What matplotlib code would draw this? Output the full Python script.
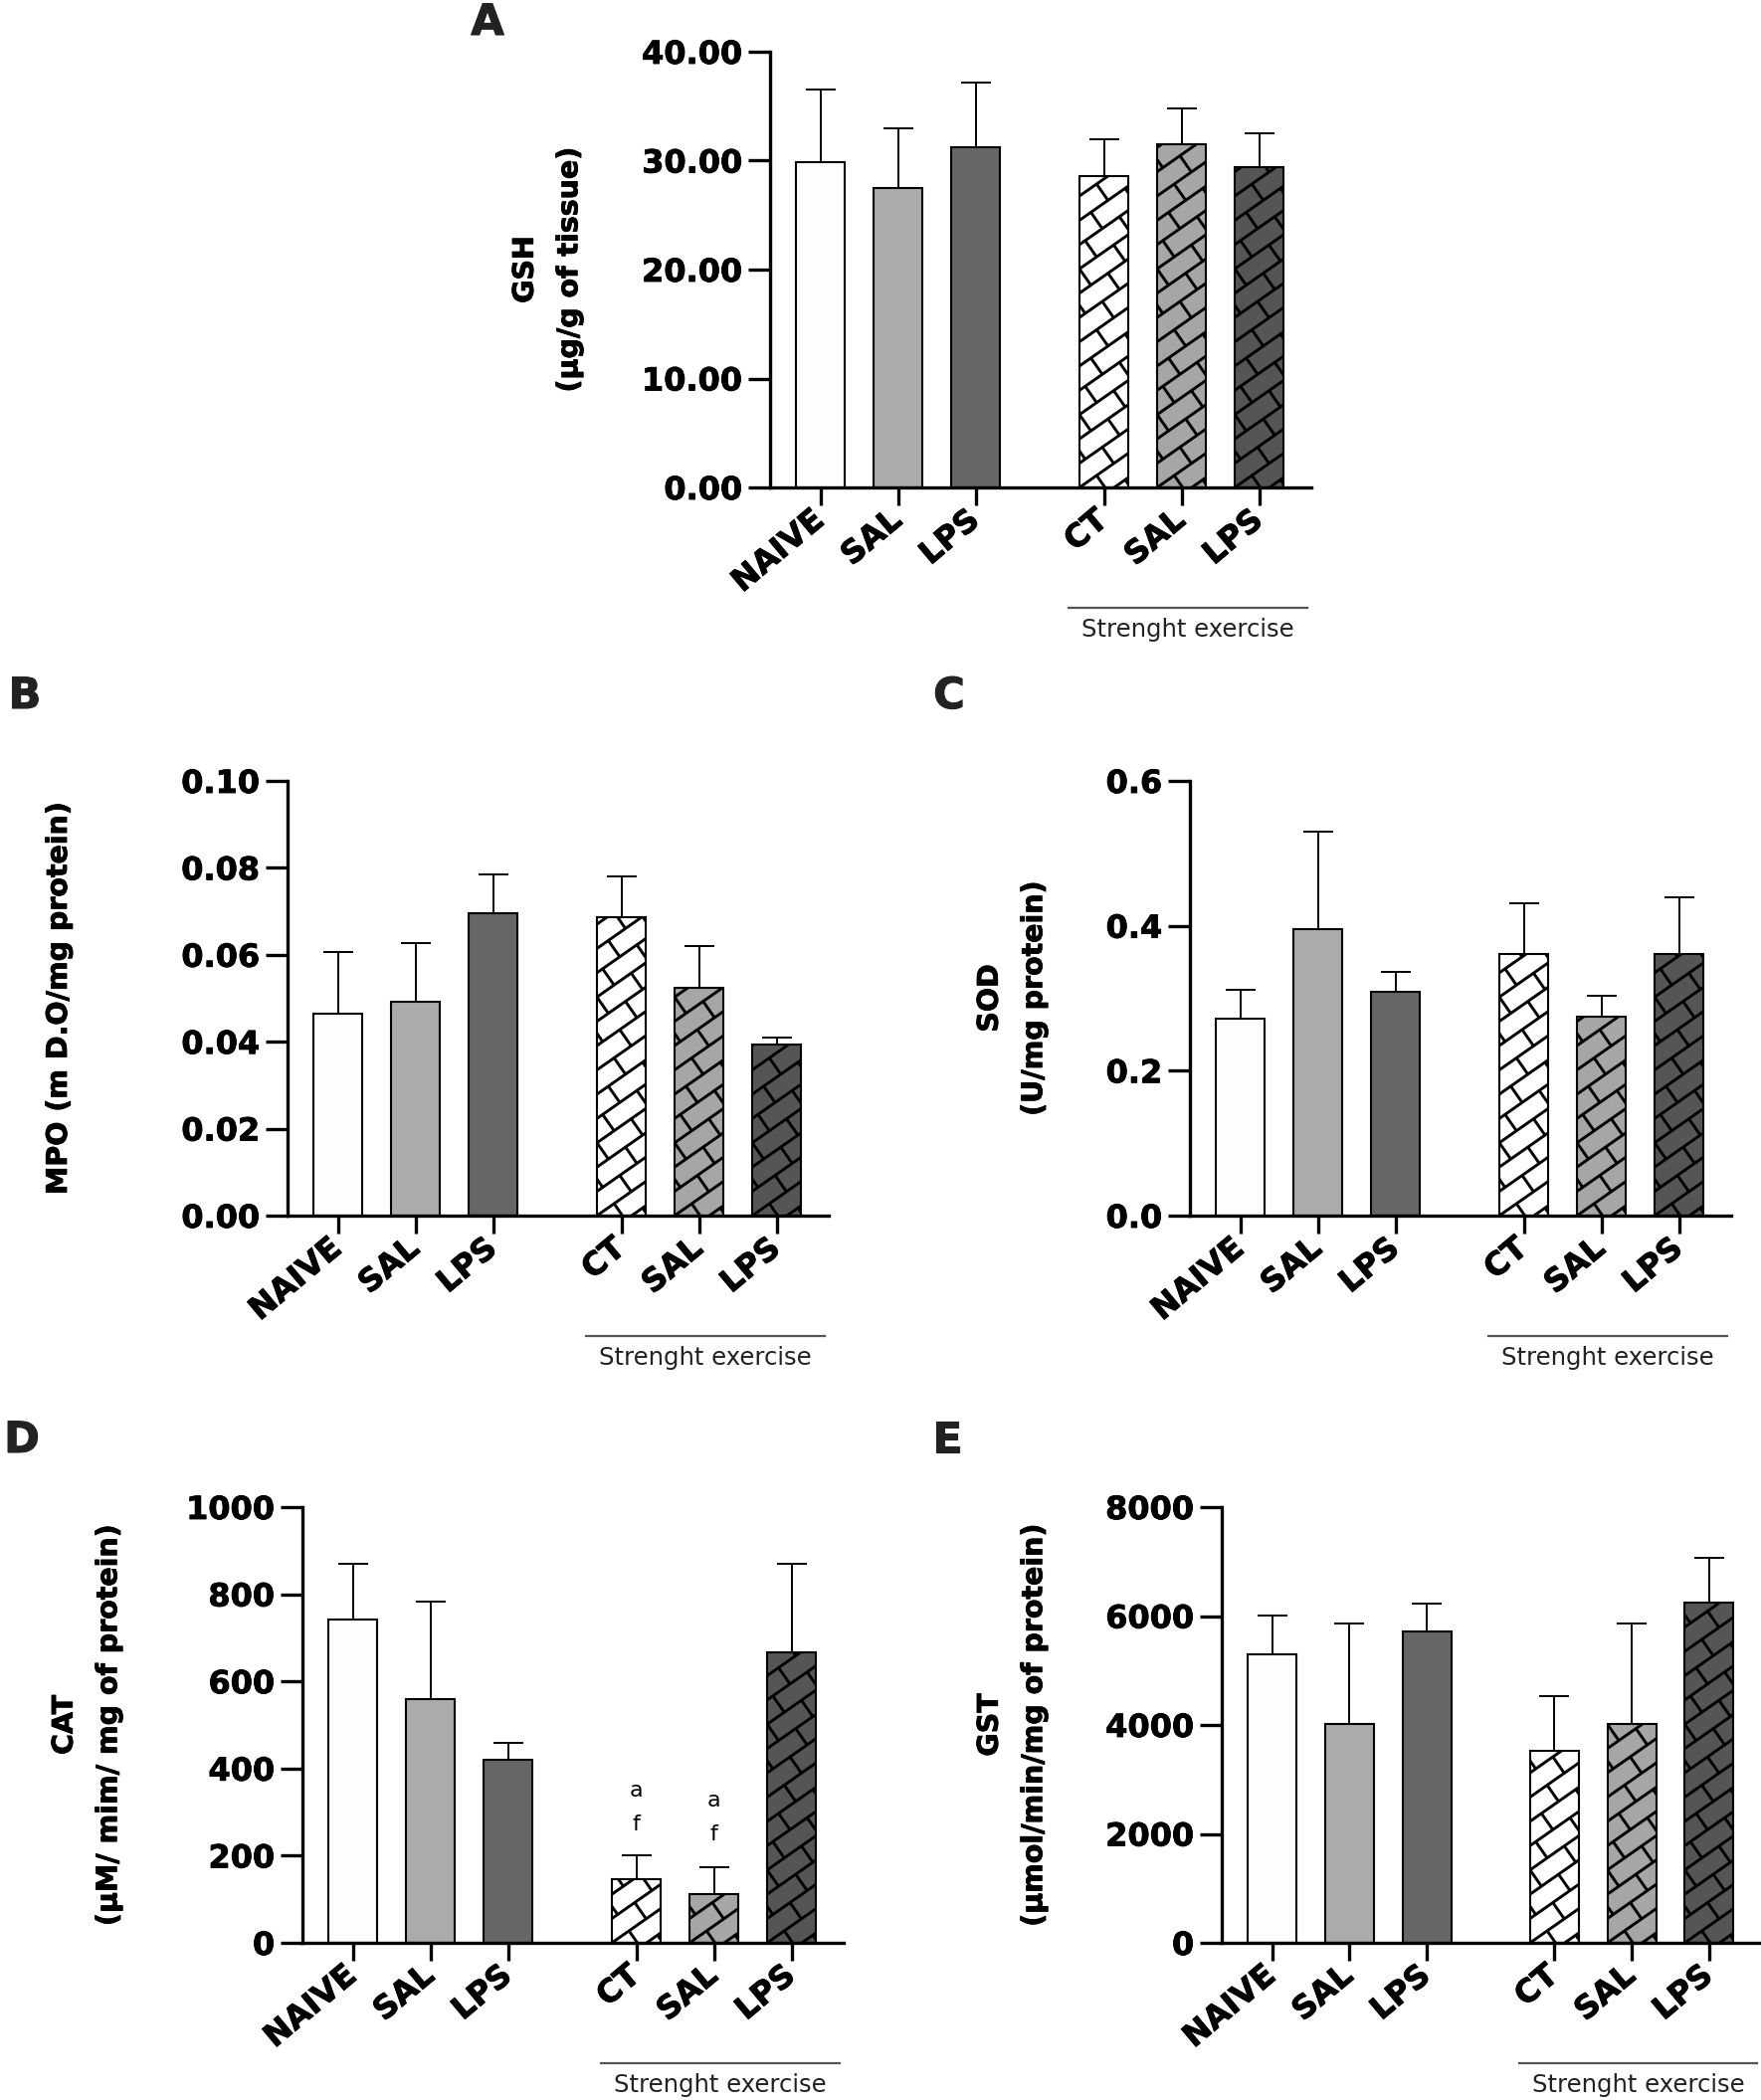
import numpy as np
import matplotlib
matplotlib.use("Agg")
import matplotlib.pyplot as plt
import matplotlib.patheffects as pe
from matplotlib.collections import LineCollection
from matplotlib.transforms import IdentityTransform, blended_transform_factory

plt.rcParams['font.family'] = ['DejaVu Sans']
plt.rcParams['font.weight'] = 'bold'

# data (mean and upper SEM)
groups = ['NAIVE', 'SAL', 'LPS', 'CT', 'SAL', 'LPS']
xpos = [0, 1, 2, 3.65, 4.65, 5.65]

gsh_mean = [29.9, 27.5, 31.2, 28.6, 31.5, 29.4]
gsh_sem = [6.6, 5.5, 6.0, 3.4, 3.3, 3.1]

mpo_mean = [0.0465, 0.0493, 0.0696, 0.0686, 0.0525, 0.0393]
mpo_sem = [0.0141, 0.0134, 0.0089, 0.0095, 0.0096, 0.0016]

sod_mean = [0.272, 0.396, 0.309, 0.361, 0.274, 0.361]
sod_sem = [0.039, 0.134, 0.027, 0.070, 0.029, 0.078]

cat_mean = [742, 560, 421, 145, 112, 666]
cat_sem = [128, 224, 39, 55, 61, 204]

gst_mean = [5304, 4016, 5717, 3522, 4016, 6243]
gst_sem = [712, 1854, 510, 1012, 1854, 826]

# significance letters in CAT panel: (bar index, letter, y)
cat_letters = [(3, 'a', 349), (3, 'f', 271), (4, 'a', 327), (4, 'f', 248)]

colors = ['#fdfdfd', '#ababab', '#666666', '#ffffff', '#a6a6a6', '#555555']
hatched = [False, False, False, True, True, True]

W, H = 1770, 2111
fig = plt.figure(figsize=(W / 100, H / 100), dpi=100)
heavy = [pe.withStroke(linewidth=0.6, foreground='black')]


def add_ax(left, top, bottom, width=544):
    return fig.add_axes([left / W, 1 - bottom / H, width / W, (bottom - top) / H])


def brick(ax, bar, ang=35, s=20.0, L=42.0):
    # brick-like hatch drawn in pixel space, clipped to the bar
    tr = ax.transData
    x0, y0 = tr.transform((bar.get_x(), bar.get_y()))
    x1, y1 = tr.transform((bar.get_x() + bar.get_width(), bar.get_y() + bar.get_height()))
    th = np.radians(ang)
    u = np.array([np.cos(th), np.sin(th)])
    n = np.array([-np.sin(th), np.cos(th)])
    o = np.array([x0, y0])
    c = np.array([[x0, y0], [x1, y0], [x0, y1], [x1, y1]]) - o
    tt = c @ u
    kk = c @ n / s
    segs = []
    for k in range(int(np.floor(kk.min())) - 1, int(np.ceil(kk.max())) + 1):
        base = o + k * s * n
        segs.append([base + (tt.min() - L) * u, base + (tt.max() + L) * u])
        for j in range(int(np.floor(tt.min() / L)) - 2, int(np.ceil(tt.max() / L)) + 2):
            t = j * L + (k % 2) * L / 2
            segs.append([base + t * u, base + t * u + s * n])
    lc = LineCollection(segs, colors='black', linewidths=2.1,
                        transform=IdentityTransform(), zorder=2.1)
    ax.add_collection(lc, autolim=False)
    lc.set_clip_path(bar)


def panel(ax, means, sems, yticks, fmt, ylabel, label_x, letter, letter_xy):
    ax.set_xlim(-0.65, 6.32)
    ax.set_ylim(yticks[0], yticks[-1])
    bars = ax.bar(xpos, means, width=0.63, color=colors, edgecolor='black',
                  linewidth=1.5, zorder=2)
    for b, h in zip(bars, hatched):
        if h:
            brick(ax, b)
    ax.errorbar(xpos, means, yerr=[np.zeros(len(means)), sems], fmt='none',
                ecolor='black', elinewidth=1.4, capsize=11, capthick=1.4, zorder=3)

    for sp in ['top', 'right']:
        ax.spines[sp].set_visible(False)
    for sp in ['left', 'bottom']:
        ax.spines[sp].set_linewidth(2.4)

    ax.set_yticks(yticks)
    ax.set_yticklabels([fmt % v for v in yticks])
    ax.set_xticks(xpos)
    ax.set_xticklabels(groups, rotation=40, ha='right', va='center',
                       rotation_mode='anchor')
    ax.tick_params(axis='y', length=16, width=2.4, labelsize=23, pad=4)
    ax.tick_params(axis='x', length=13, width=2.4, labelsize=23, pad=8)
    for lab in ax.get_xticklabels() + ax.get_yticklabels():
        lab.set_path_effects(heavy)

    bb = ax.get_position()
    lx = (label_x / W - bb.x0) / bb.width
    ax.text(lx, 0.5, ylabel, transform=ax.transAxes, rotation=90, ha='center',
            va='center', fontsize=20.5, fontweight='bold', linespacing=1.75,
            path_effects=heavy)

    # "Strenght exercise" bracket
    tb = blended_transform_factory(ax.transData, ax.transAxes)
    ax.plot([3.2, 6.27], [-0.276, -0.276], color='#555555', lw=1.6,
            transform=tb, clip_on=False)
    ax.text(4.735, -0.327, 'Strenght exercise', transform=tb, ha='center',
            va='center', fontsize=17.5, fontweight='normal', color='#222222')

    fig.text(letter_xy[0] / W, 1 - letter_xy[1] / H, letter, ha='center',
             va='center', fontsize=31, fontweight='bold', color='#222222',
             path_effects=[pe.withStroke(linewidth=0.8, foreground='#222222')])


axA = add_ax(774, 52, 490)
panel(axA, gsh_mean, gsh_sem, [0, 10, 20, 30, 40], '%.2f',
      'GSH\n(\u03bcg/g of tissue)', 550, 'A', (490, 23))

axB = add_ax(289, 785, 1222)
panel(axB, mpo_mean, mpo_sem, [0, 0.02, 0.04, 0.06, 0.08, 0.10], '%.2f',
      'MPO (m D.O/mg protein)', 59, 'B', (25, 700))

axC = add_ax(1196, 785, 1222)
panel(axC, sod_mean, sod_sem, [0, 0.2, 0.4, 0.6], '%.1f',
      'SOD\n(U/mg protein)', 1017, 'C', (954, 700))

axD = add_ax(304, 1515, 1953)
panel(axD, cat_mean, cat_sem, [0, 200, 400, 600, 800, 1000], '%d',
      'CAT\n(\u03bcM/ mim/ mg of protein)', 87, 'D', (22, 1448))
for i, s, y in cat_letters:
    axD.text(xpos[i], y, s, ha='center', va='center', fontsize=16,
             fontweight='normal')

axE = add_ax(1228, 1515, 1953, width=542)
panel(axE, gst_mean, gst_sem, [0, 2000, 4000, 6000, 8000], '%d',
      'GST\n(\u03bcmol/min/mg of protein)', 1017, 'E', (952, 1448))

fig.savefig('out.png', dpi=100)
